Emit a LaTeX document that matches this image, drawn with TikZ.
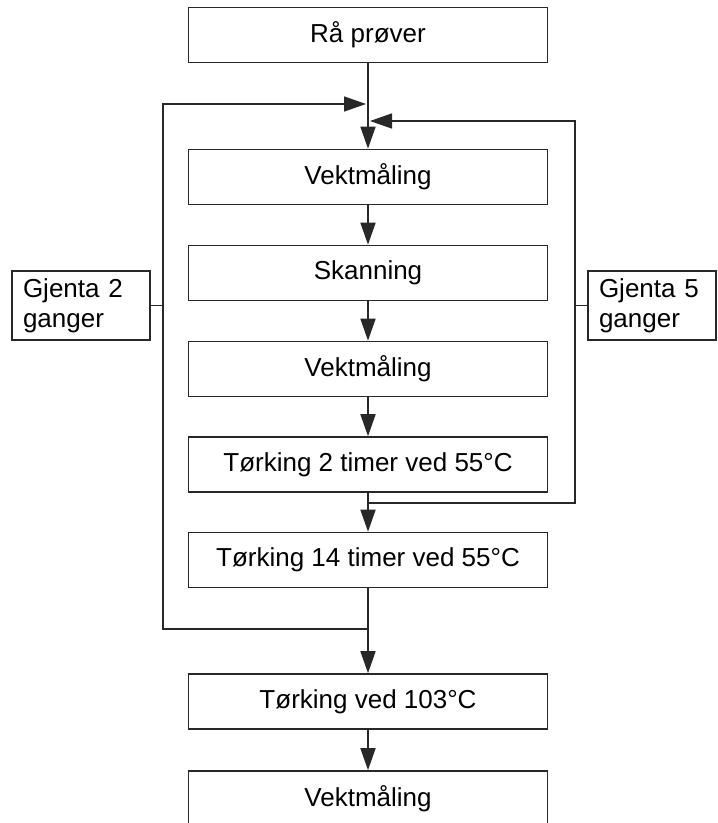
\documentclass[tikz,border=0pt]{standalone}
\usepackage{fontspec}
\setmainfont{Liberation Sans}
\usetikzlibrary{arrows.meta}
\definecolor{LineClr}{RGB}{40,40,40}

\tikzset{
  stepbox/.style={draw=LineClr,line width=0.8pt,minimum width=179.5pt,minimum height=27.5pt,
    inner sep=0pt,font=\fontsize{13}{15}\selectfont},
  notebox/.style={draw=LineClr,line width=0.8pt,minimum height=34.5pt,inner xsep=5.5pt,
    inner ysep=0pt,align=left,font=\fontsize{13}{15}\selectfont},
  flow/.style={draw=LineClr,line width=0.8pt,-{Triangle[length=11pt,width=7.5pt]}},
  wire/.style={draw=LineClr,line width=0.8pt}
}

\begin{document}
\begin{tikzpicture}[x=0.5pt,y=-0.5pt]
\useasboundingbox (0,0) rectangle (717,823);

\node[stepbox] (raa) at (368,35) {Rå prøver};
\node[stepbox] (vekt1) at (368,177) {Vektmåling};
\node[stepbox] (skann) at (368,273) {Skanning};
\node[stepbox] (vekt2) at (368,369) {Vektmåling};
\node[stepbox] (tork2) at (368,464.5) {Tørking 2 timer ved 55°C};
\node[stepbox] (tork14) at (368,560) {Tørking 14 timer ved 55°C};
\node[stepbox] (tork103) at (368,701.5) {Tørking ved 103°C};
\node[stepbox] (vekt3) at (368,798.5) {Vektmåling};

\node[notebox,text width=58pt] (rep2) at (81,305.5) {Gjenta 2\\ganger};
\node[notebox,text width=53pt] (rep5) at (652,305.5) {Gjenta 5\\ganger};

\coordinate (lout) at (368,629);
\coordinate (lx) at (163,104);
\coordinate (ltip) at (366,104);
\coordinate (rin) at (368,503);
\coordinate (rx) at (575,121);
\coordinate (rtip) at (370,121);

\draw[flow] (raa) -- (vekt1);
\draw[flow] (vekt1) -- (skann);
\draw[flow] (skann) -- (vekt2);
\draw[flow] (vekt2) -- (tork2);
\draw[flow] (tork2) -- (tork14);
\draw[flow] (tork14) -- (tork103);
\draw[flow] (tork103) -- (vekt3);

% repeat loops
\draw[flow] (lout) -| (lx) -- (ltip);
\draw[flow] (rin) -| (rx) -- (rtip);
\draw[wire] (rep2.east) -- (rep2.east -| lx);
\draw[wire] (rep5.west) -- (rep5.west -| rx);

\end{tikzpicture}
\end{document}
